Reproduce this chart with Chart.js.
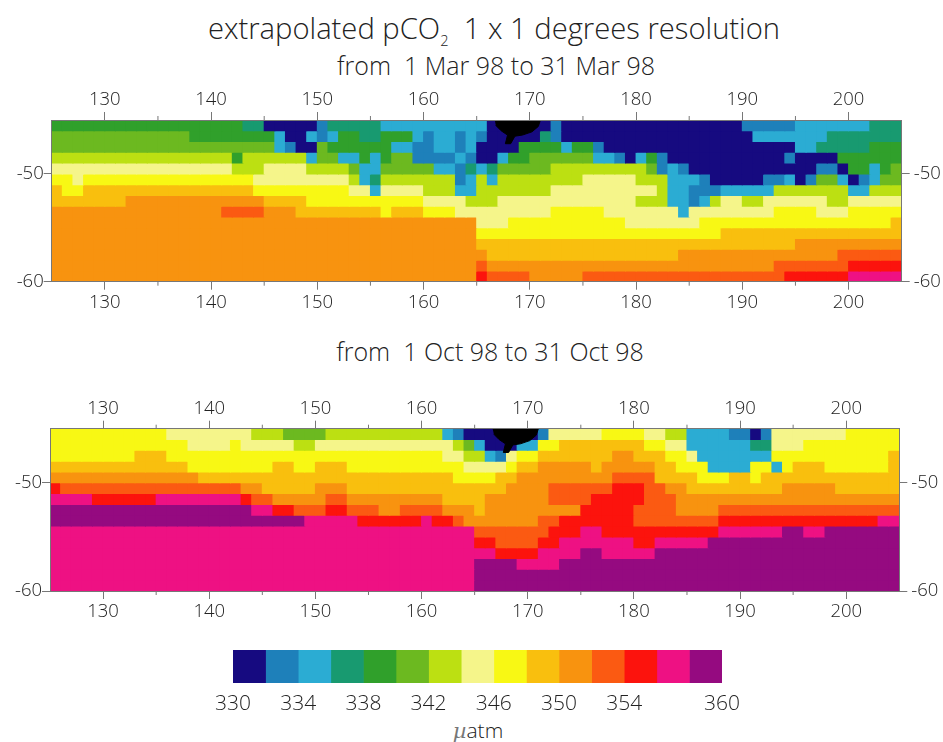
<!DOCTYPE html>
<html>
<head>
<meta charset="utf-8">
<script src="https://cdn.jsdelivr.net/npm/chart.js@4"></script>
<style>
    html, body { margin: 0; background: #fff; }
    body { position: relative; width: 943px; height: 742px; overflow: hidden; font-family: "Open Sans", sans-serif; color: #222; }
    canvas { position: absolute; left: 0; }
    .label { position: absolute; white-space: pre; transform: translateX(-50%); line-height: 1; font-weight: 300; }
    sub { font-size: 50%; line-height: 0; }
    i { font-family: "DejaVu Serif", serif; color: #777; }
</style>
</head>
<body>
<div class="label" style="left:494px;top:14px;font-size:29.2px">extrapolated pCO<sub>2</sub>  1 x 1 degrees resolution</div>
<div class="label" style="left:496px;top:53px;font-size:25px">from  1 Mar 98 to 31 Mar 98</div>
<div class="label" style="left:490px;top:339px;font-size:25px">from  1 Oct 98 to 31 Oct 98</div>
<div class="label" style="left:478px;top:720px;font-size:21px"><i>µ</i>atm</div>
<canvas id="march-chart"></canvas>
<canvas id="october-chart"></canvas>
<canvas id="colorbar-chart"></canvas>
<script>
// colour classes, lowest to highest
const classColors = ['#160a80', '#1e80ba', '#2bacd3', '#189a70', '#30a02b', '#6cb920', '#bce012', '#f5f58a',
    '#f8f814', '#f9bf0e', '#f8930f', '#fb5a12', '#fc130d', '#ee1183', '#950a80']
const colorbarEdges = [330, 332, 334, 336, 338, 340, 342, 344, 346, 348, 350, 352, 354, 356, 358, 360]
const colorbarTicks = [330, 334, 338, 342, 346, 350, 354, 360]

const lonTicks = [130, 140, 150, 160, 170, 180, 190, 200]
const lonMinorTicks = [135, 145, 155, 165, 175, 185, 195]
const latTicks = [-50, -60]

// rows from -45 down to -60, each row is class,count,class,count... along longitude 125-205
const marchRows = [
    [4,18, 3,2, 0,5, 1,1, 3,5, 2,10, 0,6, 1,1, 0,17, 1,5, 2,7, 3,3],
    [5,13, 4,8, 2,1, 0,2, 2,1, 1,1, 2,1, 4,2, 3,2, 4,3, 2,1, 1,1, 2,2, 1,1, 2,1, 1,1, 0,5, 3,1, 1,1, 0,18, 2,7, 3,7],
    [5,21, 2,1, 1,1, 0,2, 5,1, 4,6, 2,2, 1,2, 2,2, 1,1, 2,1, 0,4, 4,4, 2,1, 4,2, 1,1, 0,18, 2,2, 3,5, 4,3],
    [6,17, 4,1, 6,6, 2,1, 5,2, 2,2, 4,1, 2,1, 4,1, 5,2, 1,4, 2,1, 1,1, 0,2, 2,1, 4,2, 5,6, 2,2, 1,1, 0,1, 2,1, 4,1, 1,1, 0,11, 1,1, 0,4, 4,6],
    [7,17, 6,3, 7,4, 6,4, 5,1, 2,2, 5,5, 2,2, 1,1, 3,1, 2,1, 3,1, 5,5, 6,9, 5,1, 1,1, 2,1, 1,1, 0,12, 1,2, 0,1, 4,2, 2,1, 4,1, 5,1],
    [8,2, 7,1, 8,16, 7,9, 6,1, 2,1, 3,1, 6,7, 1,1, 2,1, 6,1, 2,1, 6,8, 7,5, 6,3, 2,3, 1,1, 0,5, 1,2, 2,1, 0,1, 1,1, 5,2, 2,1, 0,1, 1,1, 2,1, 5,2],
    [9,1, 8,2, 9,16, 8,9, 7,2, 2,1, 7,4, 6,3, 2,2, 6,7, 7,10, 6,1, 2,2, 1,3, 2,5, 6,7, 2,2, 6,3],
    [9,7, 10,13, 9,4, 8,11, 7,4, 6,3, 7,13, 6,3, 2,2, 1,1, 2,1, 6,1, 7,2, 6,2, 7,6, 6,2, 7,5],
    [10,16, 11,4, 10,3, 9,8, 8,1, 9,3, 8,3, 7,9, 8,5, 7,7, 2,1, 7,8, 8,4, 7,3, 8,5],
    [10,40, 7,3, 8,11, 7,7, 8,18, 9,1],
    [10,40, 8,23, 9,17],
    [10,40, 9,30, 10,10],
    [10,41, 9,18, 10,15, 11,6],
    [10,40, 11,1, 10,27, 11,7, 12,5],
    [10,40, 12,1, 11,4, 10,5, 11,19, 12,6, 13,5],
]
const octoberRows = [
    [8,11, 7,8, 6,3, 5,4, 6,11, 2,1, 1,1, 0,7, 1,1, 7,5, 8,4, 7,2, 6,2, 2,4, 1,2, 0,1, 1,1, 7,7, 8,5],
    [8,13, 7,4, 8,1, 7,5, 6,2, 7,13, 6,1, 5,1, 2,1, 0,3, 2,2, 8,2, 9,8, 8,2, 7,2, 2,6, 3,2, 7,3, 8,9],
    [8,8, 9,3, 8,26, 7,2, 6,2, 2,1, 1,1, 7,1, 8,2, 9,7, 10,2, 9,3, 8,2, 7,1, 2,7, 8,11, 9,1],
    [9,13, 8,8, 9,2, 8,2, 9,3, 8,11, 7,4, 8,1, 9,2, 10,5, 9,1, 10,5, 9,2, 8,3, 2,4, 8,2, 2,1, 8,1, 9,3, 8,6, 9,1],
    [10,14, 9,24, 8,4, 9,2, 10,9, 11,4, 9,4, 8,3, 9,2, 8,1, 9,13],
    [12,1, 11,17, 10,2, 9,5, 10,3, 9,15, 10,4, 11,6, 12,3, 11,2, 10,2, 9,9, 10,5, 9,6],
    [13,4, 12,6, 13,8, 12,1, 11,2, 10,5, 11,2, 10,9, 9,4, 10,6, 11,4, 12,5, 11,3, 10,21],
    [14,19, 13,2, 12,2, 11,3, 12,2, 11,3, 10,2, 11,4, 10,3, 9,1, 10,9, 12,5, 11,4, 10,4, 11,17],
    [14,24, 13,5, 12,6, 13,1, 12,2, 11,1, 10,7, 11,2, 12,7, 11,8, 12,15, 13,2],
    [13,40, 11,7, 12,3, 13,2, 12,11, 13,6, 14,2, 13,2, 14,7],
    [13,40, 12,2, 11,4, 12,2, 13,7, 12,2, 13,5, 14,18],
    [13,42, 12,4, 13,4, 14,2, 13,5, 14,23],
    [13,40, 14,4, 13,4, 14,32],
    [13,40, 14,40],
    [13,40, 14,40],
]
// black land patch, lon/lat outline
const landLons = [166.7, 171, 170.8, 170.2, 169.3, 168.6, 168.2, 167.7, 167.9, 167.3, 166.8]
const landLats = [-45, -45, -45.6, -46.1, -46.4, -46.5, -47.2, -47.2, -46.4, -46, -45.5]

const textColor = '#222'
const axisColor = '#777'
const tickFont = {family: 'Open Sans', size: 18.5, weight: 300}

function expandRow(row) {
    const out = []
    for (let i = 0; i < row.length; i += 2) {
        for (let n = 0; n < row[i + 1]; n++) out.push(row[i])
    }
    return out
}

function cellDatasets(rows) {
    const sets = rows.map((row, r) => {
        const classes = expandRow(row)
        return {
            type: 'bar',
            data: classes.map((c, i) => ({x: 125.5 + i, y: [-46 - r, -45 - r]})),
            backgroundColor: classes.map(c => classColors[c]),
            borderWidth: 0,
            inflateAmount: 0.5,
            grouped: false,
            barPercentage: 1,
            categoryPercentage: 1,
            order: 2,
        }
    })
    sets.push({
        type: 'scatter',
        data: landLons.map((lon, i) => ({x: lon, y: landLats[i]})),
        showLine: true,
        fill: 'shape',
        backgroundColor: '#000',
        borderColor: '#000',
        borderWidth: 1,
        pointRadius: 0,
        order: 1,
    })
    return sets
}

// small unlabelled ticks between the big ones
const minorTicks = {
    id: 'minorTicks',
    afterDraw(chart) {
        const c = chart.ctx, a = chart.chartArea
        c.save()
        c.strokeStyle = axisColor
        c.lineWidth = 1
        lonMinorTicks.forEach(v => {
            const x = chart.scales.x.getPixelForValue(v)
            c.beginPath()
            c.moveTo(x, a.top - 4); c.lineTo(x, a.top)
            c.moveTo(x, a.bottom); c.lineTo(x, a.bottom + 4)
            c.stroke()
        })
        c.restore()
    }
}

function lonAxis(position, size) {
    return {
        type: 'linear', position, axis: 'x', min: 125, max: 205, offset: false,
        afterBuildTicks: s => { s.ticks = lonTicks.map(v => ({value: v})) },
        afterFit: s => { s.height = size },
        grid: {drawOnChartArea: false, offset: false, color: axisColor, tickLength: 8, z: 1},
        border: {color: axisColor, z: 2},
        ticks: {color: textColor, font: tickFont, padding: position === 'top' ? 1 : 2, maxRotation: 0, autoSkip: false, callback: v => v},
    }
}

function latAxis(position, size) {
    return {
        type: 'linear', position, axis: 'y', min: -60, max: -45,
        afterBuildTicks: s => { s.ticks = latTicks.map(v => ({value: v})) },
        afterFit: s => { s.width = size },
        grid: {drawOnChartArea: false, color: axisColor, tickLength: 8, z: 1},
        border: {color: axisColor, z: 2},
        ticks: {color: textColor, font: tickFont, padding: position === 'left' ? 0 : 4, autoSkip: false, callback: v => v},
    }
}

function mapChart(id, rows, top, height, box) {
    const el = document.getElementById(id)
    el.style.top = top + 'px'
    el.width = 943
    el.height = height
    return new Chart(el, {
        data: {datasets: cellDatasets(rows)},
        options: {
            responsive: false,
            animation: false,
            layout: {padding: 0},
            plugins: {legend: {display: false}, tooltip: {enabled: false}},
            scales: {
                x: lonAxis('bottom', height - box.bottom),
                xTop: lonAxis('top', box.top),
                y: latAxis('left', box.left),
                yRight: latAxis('right', 943 - box.right),
            },
        },
        plugins: [minorTicks],
    })
}

mapChart('march-chart', marchRows, 85, 228, {left: 51.7, right: 901.7, top: 35, bottom: 196.7})
mapChart('october-chart', octoberRows, 394, 228, {left: 50, right: 899.3, top: 34.7, bottom: 197})

// colour bar
const barEl = document.getElementById('colorbar-chart')
barEl.style.top = '640px'
barEl.width = 943
barEl.height = 80
new Chart(barEl, {
    type: 'bar',
    data: {
        labels: ['pCO2'],
        datasets: classColors.map((col, i) => ({
            data: [[colorbarEdges[i], colorbarEdges[i + 1]]],
            backgroundColor: col,
            borderWidth: 0,
            grouped: false,
            barPercentage: 1,
            categoryPercentage: 1,
        })),
    },
    options: {
        indexAxis: 'y',
        responsive: false,
        animation: false,
        layout: {padding: {left: 233, right: 221, top: 10}},
        plugins: {legend: {display: false}, tooltip: {enabled: false}},
        scales: {
            y: {display: false},
            x: {
                type: 'linear', min: 330, max: 360,
                afterBuildTicks: s => { s.ticks = colorbarTicks.map(v => ({value: v})) },
                afterFit: s => { s.height = 37 },
                grid: {display: false},
                border: {display: false},
                ticks: {color: textColor, font: {family: 'Open Sans', size: 21, weight: 300}, padding: 0, maxRotation: 0, autoSkip: false, callback: v => v},
            },
        },
    },
})
</script>
</body>
</html>
